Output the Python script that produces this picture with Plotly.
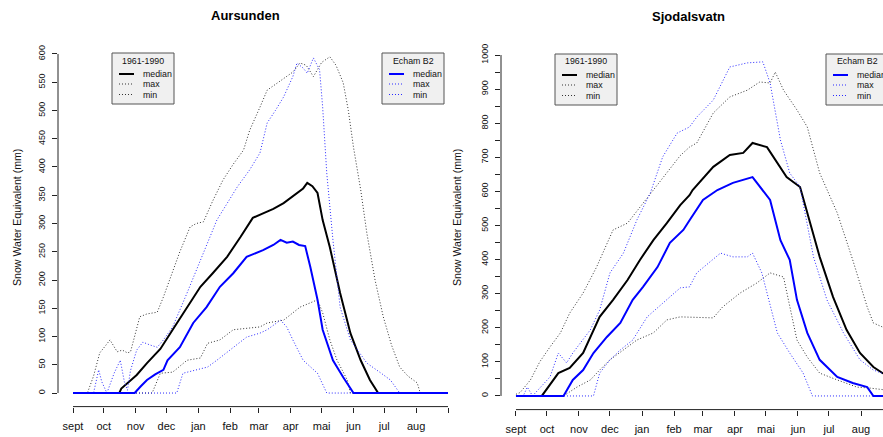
import plotly.graph_objects as go

W, H = 883, 437

# ---------------- axis categories ----------------
MONTH_LABELS = ["sept", "oct", "nov", "dec", "jan", "feb", "mar", "apr", "mai", "jun", "jul", "aug", ""]
MONTH_START_DAYS = [0, 30, 61, 91, 122, 153, 181, 212, 242, 273, 303, 334, 365]

# ---------------- Aursunden (left panel) ----------------
aur_ref_median_day = [0, 45, 47, 53, 62, 72, 85, 97, 111, 124, 136, 150, 163, 175, 185, 195, 205, 218, 224, 228, 233, 238, 243, 250, 260, 270, 280, 289, 297, 365]
aur_ref_median_swe = [0, 0, 8, 18, 32, 53, 78, 112, 152, 188, 212, 241, 276, 310, 318, 326, 336, 354, 362, 372, 366, 354, 306, 258, 177, 106, 58, 23, 0, 0]

aur_ref_max_day = [0, 14, 20, 26, 30, 36, 40, 43, 48, 53, 56, 60, 65, 72, 82, 88, 94, 104, 114, 120, 127, 136, 146, 156, 166, 172, 182, 189, 200, 214, 221, 227, 234, 242, 250, 256, 263, 268, 273, 280, 286, 294, 302, 310, 318, 326, 335, 338, 365]
aur_ref_max_swe = [0, 0, 30, 71, 80, 94, 82, 73, 76, 71, 73, 100, 135, 140, 143, 170, 200, 250, 294, 300, 303, 340, 377, 405, 430, 465, 506, 536, 550, 568, 584, 580, 560, 585, 595, 580, 549, 500, 435, 360, 283, 200, 135, 85, 46, 30, 18, 0, 0]

aur_ref_min_day = [0, 77, 85, 97, 111, 124, 131, 143, 156, 182, 189, 205, 221, 232, 238, 243, 250, 257, 267, 270, 365]
aur_ref_min_swe = [0, 0, 35, 37, 58, 62, 88, 94, 112, 117, 124, 129, 152, 160, 165, 142, 94, 58, 23, 0, 0]

aur_b2_median_day = [0, 60, 66, 72, 80, 88, 92, 104, 117, 130, 143, 156, 169, 178, 185, 195, 202, 208, 214, 220, 226, 231, 238, 243, 253, 263, 273, 365]
aur_b2_median_swe = [0, 0, 12, 23, 33, 41, 58, 81, 124, 152, 188, 212, 241, 247, 253, 262, 271, 266, 268, 262, 260, 223, 165, 112, 58, 28, 0, 0]

aur_b2_max_day = [0, 20, 25, 28, 33, 40, 46, 50, 53, 56, 62, 68, 75, 82, 88, 97, 111, 127, 140, 160, 172, 182, 189, 197, 205, 214, 218, 224, 228, 234, 240, 243, 247, 253, 260, 270, 286, 300, 309, 318, 365]
aur_b2_max_swe = [0, 0, 41, 20, 0, 35, 58, 20, 5, 40, 76, 90, 85, 81, 94, 117, 177, 248, 306, 365, 395, 425, 478, 500, 524, 560, 584, 575, 566, 593, 572, 506, 389, 271, 152, 94, 53, 35, 23, 0, 0]

aur_b2_min_day = [0, 101, 107, 121, 131, 140, 153, 169, 182, 189, 202, 208, 214, 224, 238, 247, 365]
aur_b2_min_swe = [0, 0, 35, 41, 46, 58, 76, 99, 106, 112, 129, 117, 94, 58, 35, 0, 0]

# ---------------- Sjodalsvatn (right panel) ----------------
sjo_ref_median_day = [0, 25, 41, 52, 65, 72, 81, 94, 108, 120, 133, 146, 159, 168, 171, 191, 207, 220, 229, 243, 253, 262, 275, 282, 294, 307, 320, 333, 346, 355, 365]
sjo_ref_median_swe = [0, 0, 67, 82, 126, 173, 232, 282, 340, 399, 457, 507, 560, 589, 604, 672, 707, 713, 742, 730, 683, 642, 613, 537, 408, 290, 194, 126, 85, 67, 55]

sjo_ref_max_day = [0, 4, 14, 23, 33, 43, 52, 65, 78, 94, 108, 120, 133, 146, 159, 168, 175, 191, 207, 224, 236, 246, 251, 259, 272, 282, 294, 311, 326, 340, 346, 355, 365]
sjo_ref_max_swe = [5, 10, 47, 100, 144, 185, 243, 302, 378, 487, 507, 554, 604, 654, 705, 730, 742, 830, 877, 897, 921, 918, 950, 897, 839, 789, 654, 537, 399, 261, 214, 202, 150]

sjo_ref_min_day = [0, 46, 59, 72, 81, 91, 104, 117, 133, 146, 159, 191, 200, 217, 233, 246, 259, 265, 272, 282, 294, 311, 330, 343, 355, 365]
sjo_ref_min_swe = [0, 0, 26, 47, 76, 106, 135, 164, 185, 223, 232, 229, 261, 302, 331, 361, 349, 261, 164, 114, 67, 47, 26, 23, 18, 15]

sjo_b2_median_day = [0, 46, 55, 65, 75, 88, 101, 113, 123, 137, 149, 162, 169, 181, 195, 210, 229, 239, 246, 256, 265, 272, 282, 294, 311, 326, 340, 346, 365]
sjo_b2_median_swe = [0, 0, 47, 76, 126, 173, 214, 282, 320, 378, 449, 487, 520, 575, 604, 625, 642, 604, 575, 457, 399, 282, 185, 106, 56, 38, 26, 0, 0]

sjo_b2_max_day = [0, 7, 11, 16, 33, 41, 49, 55, 72, 81, 91, 104, 117, 130, 142, 156, 168, 175, 191, 207, 224, 239, 246, 256, 265, 275, 288, 301, 317, 333, 346, 355, 365]
sjo_b2_max_swe = [0, 0, 26, 0, 56, 126, 97, 126, 194, 252, 361, 419, 516, 595, 701, 771, 789, 818, 868, 965, 977, 980, 918, 751, 654, 613, 408, 282, 185, 106, 76, 67, 55]

sjo_b2_min_day = [0, 75, 81, 91, 101, 113, 127, 142, 159, 168, 175, 198, 210, 224, 229, 238, 243, 253, 265, 278, 287, 365]
sjo_b2_min_swe = [0, 0, 67, 106, 135, 164, 232, 273, 317, 320, 361, 419, 408, 408, 419, 361, 302, 185, 126, 67, 0, 0]

# ---------------- styling ----------------
FONT = "Liberation Sans, Arial, sans-serif"
BLACK = "#000000"
BLACK_DOT = "#333333"
BLUE = "#0000ff"
BLUE_DOT = "#2a2aff"
DOT = "1px,2px"


def px(x):
    return x / W


def py(y):
    return 1 - y / H


fig = go.Figure()


def add_series(days, vals, color, width, dash, xa, ya):
    fig.add_trace(go.Scatter(
        x=days, y=vals, mode="lines",
        line=dict(color=color, width=width, dash=dash),
        xaxis=xa, yaxis=ya, showlegend=False, hoverinfo="skip"))


# left panel
add_series(aur_ref_max_day, aur_ref_max_swe, BLACK_DOT, 1, DOT, "x", "y")
add_series(aur_ref_min_day, aur_ref_min_swe, BLACK_DOT, 1, DOT, "x", "y")
add_series(aur_ref_median_day, aur_ref_median_swe, BLACK, 2, "solid", "x", "y")
add_series(aur_b2_max_day, aur_b2_max_swe, BLUE_DOT, 1, DOT, "x", "y")
add_series(aur_b2_min_day, aur_b2_min_swe, BLUE_DOT, 1, DOT, "x", "y")
add_series(aur_b2_median_day, aur_b2_median_swe, BLUE, 2, "solid", "x", "y")
# right panel
add_series(sjo_ref_max_day, sjo_ref_max_swe, BLACK_DOT, 1, DOT, "x2", "y2")
add_series(sjo_ref_min_day, sjo_ref_min_swe, BLACK_DOT, 1, DOT, "x2", "y2")
add_series(sjo_ref_median_day, sjo_ref_median_swe, BLACK, 2, "solid", "x2", "y2")
add_series(sjo_b2_max_day, sjo_b2_max_swe, BLUE_DOT, 1, DOT, "x2", "y2")
add_series(sjo_b2_min_day, sjo_b2_min_swe, BLUE_DOT, 1, DOT, "x2", "y2")
add_series(sjo_b2_median_day, sjo_b2_median_swe, BLUE, 2, "solid", "x2", "y2")

LEFT_Y_TICKS = list(range(0, 601, 50))
RIGHT_Y_TICKS = list(range(0, 1001, 50))
RIGHT_Y_TEXT = [str(v) if v % 100 == 0 else "" for v in RIGHT_Y_TICKS]

xcommon = dict(tickmode="array", tickvals=MONTH_START_DAYS, ticktext=MONTH_LABELS,
               ticks="outside", ticklen=5, tickcolor="#222", tickwidth=1,
               showline=False, showgrid=False, zeroline=False,
               tickfont=dict(family=FONT, size=11, color="#111"), ticklabelstandoff=4)
ycommon = dict(ticks="outside", ticklen=5, tickcolor="#222", tickwidth=1,
               showline=False, showgrid=False, zeroline=False, tickangle=-90,
               tickfont=dict(family=FONT, size=9, color="#111"), ticklabelstandoff=3)

fig.update_layout(
    width=W, height=H, margin=dict(l=0, r=0, t=0, b=0),
    paper_bgcolor="white", plot_bgcolor="white",
    xaxis=dict(domain=[px(58), px(463)], range=[-14.6, 379.6], anchor="y", **xcommon),
    yaxis=dict(domain=[py(406.6), py(40.4)], range=[-24, 624], anchor="x",
               tickmode="array", tickvals=LEFT_Y_TICKS, ticktext=[str(v) for v in LEFT_Y_TICKS], **ycommon),
    xaxis2=dict(domain=[px(501), 1.0], range=[-14.5, 355.3], anchor="y2", **xcommon),
    yaxis2=dict(domain=[py(409.6), py(41.4)], range=[-40, 1040], anchor="x2",
                tickmode="array", tickvals=RIGHT_Y_TICKS, ticktext=RIGHT_Y_TEXT, **ycommon),
)

shapes = []
annotations = []
# axis lines spanning only the tick range (R style)
for xa, ya, ymax in (("x", "y", LEFT_Y_TICKS[-1]), ("x2", "y2", RIGHT_Y_TICKS[-1])):
    shapes.append(dict(type="line", xref=xa, yref=ya + " domain", x0=MONTH_START_DAYS[0], x1=MONTH_START_DAYS[-1],
                       y0=0, y1=0, line=dict(color="#222", width=1)))
    shapes.append(dict(type="line", xref=xa + " domain", yref=ya, x0=0, x1=0, y0=0, y1=ymax,
                       line=dict(color="#222", width=1)))

# titles
annotations.append(dict(text="<b>Aursunden</b>", x=px(246), y=py(16), xref="paper", yref="paper",
                        showarrow=False, font=dict(family=FONT, size=13, color="#000"),
                        xanchor="center", yanchor="middle"))
annotations.append(dict(text="<b>Sjodalsvatn</b>", x=px(688), y=py(17), xref="paper", yref="paper",
                        showarrow=False, font=dict(family=FONT, size=13, color="#000"),
                        xanchor="center", yanchor="middle"))
for xc in (17, 457):
    annotations.append(dict(text="Snow Water Equivalent (mm)", x=px(xc), y=py(218), xref="paper", yref="paper",
                            showarrow=False, textangle=-90, font=dict(family=FONT, size=10.6, color="#111"),
                            xanchor="center", yanchor="middle"))


# legends
def legend_box(left, top, title, color, dotcolor):
    width, height = 62, 51
    shapes.append(dict(type="rect", xref="paper", yref="paper", x0=px(left), x1=px(left + width),
                       y0=py(top + height), y1=py(top), fillcolor="#f0f0f0",
                       line=dict(color="#555", width=1), layer="above"))
    annotations.append(dict(text=title, x=px(left + width / 2), y=py(top + 7.5), xref="paper", yref="paper",
                            showarrow=False, font=dict(family=FONT, size=8.8, color="#111"),
                            xanchor="center", yanchor="middle"))
    rows = [("median", 21, 2, "solid", color), ("max", 31, 1, DOT, dotcolor), ("min", 41.5, 1, DOT, dotcolor)]
    for label, dy, lw, dash, c in rows:
        shapes.append(dict(type="line", xref="paper", yref="paper", x0=px(left + 7), x1=px(left + 22),
                           y0=py(top + dy), y1=py(top + dy), line=dict(color=c, width=lw, dash=dash),
                           layer="above"))
        annotations.append(dict(text=label, x=px(left + 29), y=py(top + dy), xref="paper", yref="paper",
                                showarrow=False, font=dict(family=FONT, size=8.8, color="#111"),
                                xanchor="left", yanchor="middle"))


legend_box(112, 53, "1961-1990", BLACK, BLACK_DOT)
legend_box(382, 53, "Echam B2", BLUE, BLUE_DOT)
legend_box(555, 54, "1961-1990", BLACK, BLACK_DOT)
legend_box(826, 54, "Echam B2", BLUE, BLUE_DOT)

fig.update_layout(shapes=shapes, annotations=annotations)
fig.write_html("out.html")
